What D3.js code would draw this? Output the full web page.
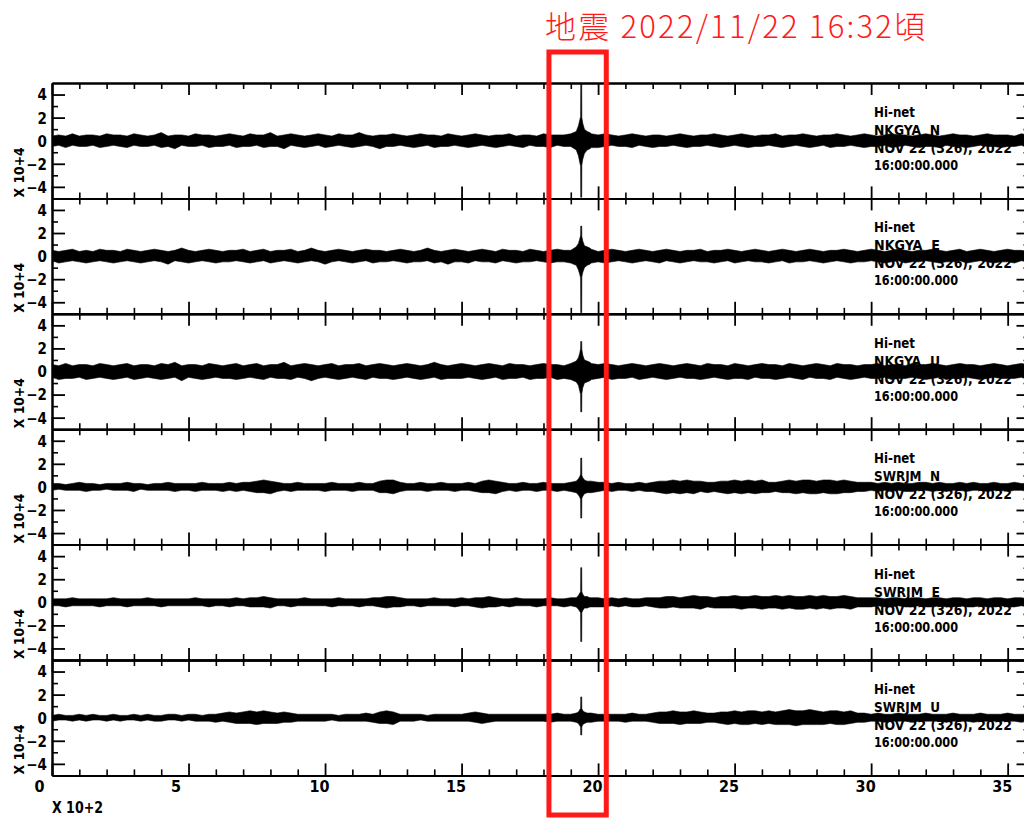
<!DOCTYPE html>
<html><head><meta charset="utf-8">
<script src="https://cdn.jsdelivr.net/npm/d3@7"></script>
<style>html,body{margin:0;padding:0;background:#fff;} svg{display:block} text{white-space:pre}</style>
</head><body>
<svg id="c" width="1024" height="818"></svg>
<script>
// ---------- text / labels ----------
const titleText = "地震 2022/11/22 16:32頃";
const network = "Hi-net";
const stations = ["NKGYA  N", "NKGYA  E", "NKGYA  U", "SWRJM  N", "SWRJM  E", "SWRJM  U"];
const dateLabel = "NOV 22 (326), 2022";
const timeLabel = "16:00:00.000";
const xTickLabels = [0, 5, 10, 15, 20, 25, 30, 35];
const yTickLabels = [4, 2, 0, -2, -4];
const xUnitLabel = "X 10+2";
const yUnitLabel = "X 10+4";
const eventWindow = [18.2, 20.3];   // x10^2 s, red box

// ---------- data: per-bin envelope (max / min) in units of 10^4, bins every 0.25 x10^2 s ----------
const binStep = 0.25;
const nN_max = [
.4,.5,.4,.6,.4,.5,.5,.4,.6,.5,
.5,.4,.6,.5,.4,.5,.7,.4,.5,.5,
.4,.6,.5,.5,.4,.5,.6,.5,.4,.6,
.5,.5,.7,.4,.5,.6,.5,.4,.5,.6,
.5,.4,.6,.5,.5,.7,.5,.4,.5,.5,
.6,.5,.4,.5,.6,.5,.5,.4,.6,.5,
.4,.5,.6,.5,.4,.5,.5,.6,.4,.5,
.5,.4,.6,.5,.5,.5,.6,.5,.6,.6,
.5,.6,.5,.4,.5,.6,.5,.4,.5,.5,
.4,.5,.6,.5,.4,.5,.5,.6,.5,.4,
.5,.6,.5,.4,.5,.5,.6,.4,.5,.5,
.6,.5,.4,.5,.5,.6,.5,.4,.5,.6,
.5,.4,.5,.6,.5,.5,.4,.5,.6,.5,
.4,.5,.6,.5,.5,.4,.5,.6,.5,.5,
.5,.4,.6,.5,.5,.5];
const nN_min = [
-.5,-.4,-.6,-.4,-.5,-.5,-.4,-.6,-.5,-.4,
-.5,-.6,-.4,-.5,-.5,-.4,-.6,-.5,-.7,-.4,
-.5,-.5,-.4,-.6,-.5,-.5,-.4,-.6,-.5,-.5,
-.4,-.6,-.5,-.5,-.7,-.4,-.5,-.6,-.5,-.4,
-.6,-.5,-.4,-.5,-.6,-.5,-.4,-.5,-.7,-.5,
-.5,-.4,-.5,-.6,-.5,-.4,-.6,-.5,-.5,-.4,
-.5,-.6,-.5,-.4,-.5,-.6,-.5,-.4,-.5,-.6,
-.4,-.5,-.5,-.6,-.4,-.5,-.5,-.6,-.6,-.6,
-.6,-.5,-.4,-.5,-.5,-.6,-.4,-.5,-.6,-.5,
-.5,-.4,-.5,-.6,-.5,-.5,-.4,-.5,-.6,-.5,
-.4,-.5,-.6,-.5,-.5,-.4,-.5,-.6,-.5,-.4,
-.5,-.6,-.5,-.4,-.6,-.5,-.5,-.4,-.5,-.6,
-.5,-.5,-.4,-.6,-.5,-.4,-.5,-.6,-.5,-.5,
-.6,-.4,-.5,-.5,-.6,-.5,-.4,-.5,-.5,-.6,
-.5,-.5,-.4,-.6,-.5,-.5];
const nE_max = [
.5,.4,.5,.6,.4,.5,.4,.6,.5,.5,
.4,.6,.5,.4,.5,.6,.5,.4,.5,.7,
.5,.4,.5,.6,.5,.4,.5,.5,.6,.4,
.5,.6,.4,.5,.5,.6,.4,.5,.7,.5,
.4,.5,.6,.5,.4,.5,.6,.5,.5,.4,
.5,.6,.5,.4,.5,.7,.5,.4,.5,.6,
.5,.4,.5,.6,.5,.4,.6,.5,.5,.4,
.6,.5,.4,.5,.6,.5,.5,.6,.6,.6,
.4,.5,.6,.5,.4,.5,.6,.5,.4,.5,
.6,.5,.4,.5,.5,.6,.4,.5,.5,.6,
.5,.4,.5,.6,.5,.4,.5,.6,.5,.4,
.5,.6,.5,.4,.5,.5,.6,.5,.4,.5,
.6,.5,.4,.5,.6,.5,.4,.5,.5,.6,
.5,.4,.5,.6,.4,.5,.6,.5,.4,.5,
.6,.5,.5,.4,.5,.6];
const nE_min = [
-.4,-.6,-.5,-.4,-.5,-.6,-.5,-.4,-.5,-.6,
-.5,-.4,-.5,-.6,-.5,-.4,-.5,-.7,-.4,-.5,
-.6,-.5,-.4,-.5,-.6,-.5,-.5,-.4,-.5,-.6,
-.5,-.4,-.6,-.5,-.4,-.5,-.6,-.5,-.4,-.5,
-.7,-.5,-.4,-.5,-.6,-.5,-.4,-.6,-.5,-.5,
-.4,-.5,-.6,-.5,-.5,-.4,-.6,-.5,-.7,-.5,
-.5,-.6,-.4,-.5,-.5,-.6,-.4,-.5,-.6,-.5,
-.5,-.4,-.5,-.6,-.5,-.5,-.6,-.6,-.6,-.6,
-.5,-.6,-.5,-.4,-.5,-.6,-.5,-.4,-.5,-.6,
-.4,-.5,-.6,-.5,-.4,-.5,-.5,-.6,-.5,-.4,
-.6,-.5,-.4,-.5,-.5,-.6,-.5,-.4,-.6,-.5,
-.5,-.4,-.5,-.6,-.5,-.4,-.5,-.6,-.5,-.5,
-.4,-.5,-.6,-.5,-.4,-.6,-.5,-.5,-.4,-.5,
-.6,-.5,-.5,-.4,-.6,-.5,-.4,-.5,-.6,-.5,
-.5,-.6,-.4,-.5,-.5,-.4];
const nU_max = [
.6,.5,.7,.5,.6,.6,.5,.7,.6,.5,
.6,.7,.5,.6,.6,.5,.7,.6,.8,.5,
.6,.6,.5,.7,.6,.5,.6,.7,.5,.6,
.7,.5,.6,.6,.8,.5,.6,.7,.6,.5,
.6,.7,.5,.6,.6,.7,.5,.6,.7,.6,
.5,.6,.7,.6,.5,.6,.8,.6,.5,.6,
.7,.6,.5,.6,.7,.6,.5,.7,.6,.6,
.5,.6,.7,.6,.6,.5,.7,.6,.7,.7,
.6,.7,.6,.5,.6,.7,.6,.5,.6,.7,
.6,.5,.6,.7,.6,.5,.7,.6,.6,.5,
.7,.6,.5,.6,.7,.6,.6,.5,.7,.6,
.5,.6,.7,.6,.5,.7,.6,.6,.5,.6,
.6,.7,.5,.6,.6,.5,.7,.6,.6,.7,
.6,.5,.6,.7,.6,.6,.5,.6,.7,.6,
.5,.6,.7,.6,.6,.5];
const nU_min = [
-.5,-.7,-.6,-.6,-.5,-.7,-.6,-.5,-.6,-.7,
-.6,-.5,-.7,-.6,-.5,-.6,-.7,-.6,-.5,-.8,
-.5,-.6,-.7,-.6,-.5,-.6,-.6,-.7,-.6,-.5,
-.6,-.7,-.5,-.6,-.6,-.7,-.5,-.6,-.8,-.6,
-.5,-.6,-.7,-.6,-.5,-.6,-.7,-.5,-.6,-.6,
-.7,-.6,-.5,-.6,-.7,-.6,-.5,-.7,-.6,-.6,
-.6,-.5,-.6,-.7,-.6,-.5,-.7,-.6,-.6,-.5,
-.7,-.6,-.6,-.5,-.7,-.6,-.7,-.7,-.7,-.7,
-.6,-.5,-.7,-.6,-.6,-.5,-.7,-.6,-.5,-.6,
-.7,-.6,-.5,-.6,-.6,-.7,-.6,-.5,-.6,-.7,
-.6,-.6,-.7,-.5,-.6,-.6,-.7,-.6,-.5,-.6,
-.7,-.5,-.6,-.6,-.7,-.5,-.6,-.7,-.6,-.5,
-.6,-.6,-.5,-.7,-.6,-.6,-.5,-.6,-.7,-.6,
-.5,-.7,-.6,-.6,-.5,-.6,-.7,-.6,-.5,-.6,
-.6,-.6,-.5,-.7,-.6,-.6];
const sN_max = [
.3,.3,.2,.3,.4,.3,.3,.2,.3,.3,
.3,.4,.3,.3,.2,.3,.3,.4,.3,.3,
.3,.3,.4,.3,.3,.3,.4,.3,.4,.4,
.5,.6,.5,.4,.3,.3,.4,.3,.3,.3,
.3,.4,.3,.3,.3,.4,.3,.3,.5,.6,
.6,.4,.3,.3,.4,.3,.3,.4,.3,.3,
.3,.4,.3,.5,.6,.5,.4,.3,.3,.4,
.3,.3,.4,.3,.3,.3,.4,.5,.5,.5,
.4,.4,.3,.4,.3,.3,.4,.3,.4,.5,
.5,.6,.5,.6,.5,.5,.4,.4,.5,.5,
.6,.5,.6,.5,.6,.4,.4,.5,.6,.5,
.6,.6,.5,.6,.6,.5,.6,.5,.4,.4,
.4,.3,.4,.3,.4,.3,.3,.4,.4,.3,
.4,.3,.3,.4,.3,.4,.3,.3,.4,.3,
.3,.4,.3,.3,.4,.3];
const sN_min = [
-.3,-.2,-.3,-.3,-.3,-.4,-.3,-.3,-.2,-.3,
-.3,-.3,-.4,-.2,-.3,-.3,-.3,-.3,-.4,-.3,
-.3,-.4,-.3,-.3,-.3,-.4,-.3,-.4,-.3,-.4,
-.5,-.5,-.6,-.4,-.3,-.4,-.3,-.3,-.3,-.3,
-.4,-.3,-.3,-.3,-.4,-.3,-.3,-.3,-.5,-.5,
-.6,-.4,-.3,-.3,-.3,-.4,-.3,-.3,-.3,-.4,
-.3,-.3,-.4,-.5,-.5,-.6,-.4,-.3,-.4,-.3,
-.3,-.4,-.3,-.3,-.4,-.3,-.4,-.5,-.5,-.5,
-.4,-.3,-.4,-.3,-.3,-.4,-.3,-.4,-.4,-.5,
-.6,-.5,-.6,-.5,-.6,-.4,-.5,-.4,-.5,-.6,
-.5,-.6,-.5,-.6,-.5,-.5,-.4,-.5,-.5,-.6,
-.5,-.6,-.6,-.5,-.6,-.6,-.5,-.5,-.4,-.4,
-.3,-.4,-.3,-.4,-.3,-.4,-.4,-.3,-.3,-.4,
-.3,-.4,-.3,-.3,-.4,-.3,-.3,-.4,-.3,-.3,
-.4,-.3,-.3,-.4,-.3,-.3];
const sE_max = [
.3,.3,.3,.4,.3,.3,.3,.3,.3,.4,
.3,.3,.3,.3,.4,.3,.3,.3,.3,.3,
.3,.4,.3,.3,.3,.3,.3,.4,.3,.4,
.4,.5,.4,.3,.3,.3,.3,.4,.3,.3,
.3,.3,.4,.3,.3,.3,.3,.4,.4,.5,
.5,.4,.3,.3,.3,.3,.4,.3,.3,.3,
.4,.3,.4,.4,.5,.4,.3,.3,.4,.3,
.3,.3,.3,.4,.3,.3,.4,.4,.4,.4,
.4,.3,.4,.3,.4,.3,.3,.4,.4,.4,
.5,.5,.4,.5,.6,.5,.5,.4,.5,.5,
.6,.5,.5,.6,.5,.5,.6,.5,.6,.5,
.5,.6,.5,.6,.5,.5,.6,.5,.4,.4,
.4,.4,.3,.4,.4,.3,.4,.4,.3,.4,
.4,.3,.4,.4,.3,.4,.4,.3,.4,.4,
.3,.4,.4,.3,.4,.4];
const sE_min = [
-.3,-.3,-.4,-.3,-.3,-.3,-.3,-.4,-.3,-.3,
-.3,-.4,-.3,-.3,-.3,-.3,-.4,-.3,-.3,-.3,
-.3,-.3,-.3,-.4,-.3,-.3,-.4,-.3,-.3,-.4,
-.4,-.4,-.5,-.3,-.3,-.4,-.3,-.3,-.3,-.3,
-.3,-.4,-.3,-.3,-.3,-.4,-.3,-.3,-.4,-.5,
-.4,-.4,-.3,-.3,-.4,-.3,-.3,-.3,-.3,-.4,
-.3,-.3,-.4,-.5,-.4,-.4,-.3,-.4,-.3,-.3,
-.3,-.4,-.3,-.3,-.3,-.4,-.3,-.4,-.4,-.4,
-.4,-.4,-.3,-.4,-.3,-.4,-.4,-.3,-.4,-.5,
-.5,-.4,-.5,-.5,-.5,-.6,-.4,-.5,-.5,-.5,
-.5,-.6,-.5,-.5,-.6,-.5,-.5,-.6,-.5,-.6,
-.6,-.5,-.6,-.5,-.6,-.5,-.5,-.6,-.4,-.4,
-.4,-.3,-.4,-.4,-.3,-.4,-.4,-.3,-.4,-.4,
-.3,-.4,-.4,-.3,-.4,-.4,-.3,-.4,-.4,-.3,
-.4,-.4,-.3,-.4,-.4,-.3];
const sU_max = [
.2,.3,.2,.2,.3,.2,.3,.2,.2,.3,
.2,.2,.3,.2,.3,.2,.2,.3,.3,.2,
.3,.3,.2,.3,.3,.4,.5,.4,.5,.6,
.5,.6,.5,.4,.5,.4,.3,.3,.3,.3,
.3,.3,.2,.3,.3,.3,.4,.3,.5,.6,
.5,.3,.3,.3,.3,.2,.3,.3,.3,.3,
.3,.4,.5,.4,.3,.3,.3,.3,.3,.3,
.3,.3,.3,.3,.4,.3,.3,.4,.4,.4,
.3,.3,.3,.3,.3,.4,.3,.3,.4,.5,
.5,.6,.5,.5,.6,.5,.4,.4,.5,.5,
.6,.5,.6,.6,.5,.6,.5,.6,.7,.6,
.6,.7,.6,.5,.6,.6,.5,.6,.4,.4,
.3,.4,.3,.3,.4,.3,.3,.3,.4,.3,
.3,.3,.4,.3,.3,.3,.4,.3,.3,.3,
.4,.3,.3,.3,.4,.3];
const sU_min = [
-.3,-.2,-.2,-.3,-.2,-.3,-.2,-.2,-.3,-.2,
-.3,-.2,-.2,-.3,-.2,-.3,-.3,-.2,-.2,-.3,
-.2,-.3,-.3,-.3,-.4,-.3,-.4,-.5,-.5,-.5,
-.6,-.5,-.5,-.5,-.4,-.4,-.3,-.3,-.3,-.3,
-.3,-.2,-.3,-.3,-.3,-.3,-.3,-.4,-.5,-.5,
-.6,-.3,-.3,-.3,-.2,-.3,-.3,-.3,-.3,-.3,
-.3,-.3,-.4,-.5,-.4,-.3,-.3,-.3,-.3,-.3,
-.3,-.3,-.3,-.4,-.3,-.3,-.3,-.4,-.4,-.4,
-.3,-.3,-.3,-.3,-.4,-.3,-.3,-.3,-.4,-.5,
-.5,-.5,-.6,-.5,-.5,-.5,-.4,-.4,-.5,-.6,
-.5,-.6,-.6,-.5,-.6,-.5,-.6,-.6,-.6,-.7,
-.6,-.6,-.6,-.6,-.5,-.6,-.6,-.5,-.4,-.4,
-.3,-.3,-.4,-.3,-.3,-.3,-.4,-.3,-.3,-.3,
-.3,-.4,-.3,-.3,-.3,-.4,-.3,-.3,-.3,-.3,
-.3,-.3,-.4,-.3,-.3,-.3];

// earthquake arrival (16:32), finer samples, x10^2 s
const eventT = [19.20, 19.28, 19.33, 19.36, 19.365, 19.40, 19.405, 19.44, 19.50, 19.60, 19.70];
const ev_nN_max = [.8,1.3,1.8,2.1,4.9,4.9,2.0,1.5,1.0,.8,.7];
const ev_nN_min = [-.8,-1.3,-1.9,-2.2,-4.9,-4.9,-2.1,-1.6,-1.1,-.8,-.7];
const ev_nE_max = [.8,1.1,1.5,1.8,2.6,2.6,1.7,1.3,.9,.8,.7];
const ev_nE_min = [-.8,-1.2,-1.6,-1.9,-4.9,-4.9,-1.8,-1.4,-1.0,-.8,-.7];
const ev_nU_max = [.9,1.2,1.6,2.0,2.6,2.6,1.9,1.4,1.0,.9,.8];
const ev_nU_min = [-.9,-1.2,-1.7,-2.0,-3.5,-3.5,-1.9,-1.4,-1.0,-.9,-.8];
const ev_sN_max = [.5,.7,.9,1.1,2.5,2.5,1.0,.8,.6,.5,.5];
const ev_sN_min = [-.5,-.7,-.9,-1.1,-2.7,-2.7,-1.0,-.8,-.6,-.5,-.5];
const ev_sE_max = [.4,.6,.8,.9,3.0,3.0,.9,.7,.5,.5,.4];
const ev_sE_min = [-.4,-.6,-.8,-.9,-3.4,-3.4,-.9,-.7,-.5,-.5,-.4];
const ev_sU_max = [.4,.5,.7,.8,1.8,1.8,.8,.6,.5,.4,.4];
const ev_sU_min = [-.4,-.5,-.7,-.8,-1.5,-1.5,-.8,-.6,-.5,-.4,-.4];

const traceMax = [nN_max, nE_max, nU_max, sN_max, sE_max, sU_max];
const traceMin = [nN_min, nE_min, nU_min, sN_min, sE_min, sU_min];
const eventMax = [ev_nN_max, ev_nE_max, ev_nU_max, ev_sN_max, ev_sE_max, ev_sU_max];
const eventMin = [ev_nN_min, ev_nE_min, ev_nU_min, ev_sN_min, ev_sE_min, ev_sU_min];

// ---------- drawing ----------
const svg = d3.select("#c");
const FONT = "'Liberation Sans Narrow','DejaVu Sans Condensed','Roboto Condensed','Liberation Sans',sans-serif";
const plotL = 52, plotR = 1029.5, plotTop = 83, panelH = 115.4;
const xs = d3.scaleLinear().domain([0, 35.8]).range([plotL, plotR]);

function buildSeries(mx, mn, emx, emn) {
  const pts = [];
  const n = Math.min(mx.length, mn.length);
  const t0 = eventT[0], t1 = eventT[eventT.length - 1];
  for (let i = 0; i < n; i++) {
    const t = i * binStep;
    if (t < t0 || t > t1) pts.push({t, hi: mx[i], lo: mn[i]});
  }
  eventT.forEach((t, j) => pts.push({t, hi: emx[j], lo: emn[j]}));
  pts.sort((a, b) => a.t - b.t);
  return pts;
}

function styleAxis(sel, w) {
  sel.selectAll("path.domain").attr("stroke", "#000").attr("stroke-width", 2);
  sel.selectAll(".tick line").attr("stroke", "#000").attr("stroke-width", w);
}

const minorX = d3.range(0, 36).filter(v => v % 5 !== 0);
const majorX = d3.range(0, 36, 5);
const minorY = [-3, -1, 1, 3];
const majorY = [-4, -2, 0, 2, 4];

stations.forEach((st, k) => {
  const g = svg.append("g").attr("transform", `translate(0,${plotTop + k * panelH})`);
  const ys = d3.scaleLinear().domain([-5, 5]).range([panelH, 0]);
  const cid = "clip" + k;
  g.append("clipPath").attr("id", cid).append("rect")
    .attr("x", plotL).attr("y", 0).attr("width", plotR - plotL).attr("height", panelH);

  const pts = buildSeries(traceMax[k], traceMin[k], eventMax[k], eventMin[k]);
  const area = d3.area().x(d => xs(d.t)).y0(d => ys(d.lo)).y1(d => ys(d.hi));
  g.append("path").attr("clip-path", `url(#${cid})`).attr("d", area(pts))
    .attr("fill", "#000").attr("stroke", "#000").attr("stroke-width", 0.6).attr("stroke-linejoin", "miter");

  const ax = (a, vals, size) => a.tickValues(vals).tickSize(size).tickSizeOuter(0).tickFormat("");
  g.append("g").call(ax(d3.axisBottom(xs), minorX, 6)).call(s => styleAxis(s, 1.6));
  g.append("g").call(ax(d3.axisBottom(xs), majorX, 12)).call(s => styleAxis(s, 1.8));
  g.append("g").attr("transform", `translate(0,${panelH})`).call(ax(d3.axisTop(xs), minorX, 6)).call(s => styleAxis(s, 1.6));
  g.append("g").attr("transform", `translate(0,${panelH})`).call(ax(d3.axisTop(xs), majorX, 12)).call(s => styleAxis(s, 1.8));
  g.append("g").attr("transform", `translate(${plotL},0)`).call(ax(d3.axisRight(ys), minorY, 6)).call(s => styleAxis(s, 1.6));
  g.append("g").attr("transform", `translate(${plotL},0)`).call(ax(d3.axisRight(ys), majorY, 13)).call(s => styleAxis(s, 1.8));
  g.append("g").attr("transform", `translate(${plotR},0)`).call(ax(d3.axisLeft(ys), minorY, 6)).call(s => styleAxis(s, 1.6));
  g.append("g").attr("transform", `translate(${plotR},0)`).call(ax(d3.axisLeft(ys), majorY, 13)).call(s => styleAxis(s, 1.8));

  const yl = g.append("g").attr("transform", `translate(${plotL},0)`)
    .call(d3.axisLeft(ys).tickValues(yTickLabels).tickSize(0).tickPadding(5)
      .tickFormat(d => d < 0 ? "\u2212" + Math.abs(d) : String(d)));
  yl.select("path.domain").remove();
  yl.attr("font-family", FONT).attr("font-size", 15).attr("font-weight", "bold");
  yl.selectAll("text").attr("fill", "#000").attr("dy", "0.36em");

  g.append("text").attr("transform", `translate(24,${panelH - 1}) rotate(-90)`)
    .attr("font-family", FONT).attr("font-size", 14).attr("font-weight", "bold")
    .attr("textLength", 50).attr("lengthAdjust", "spacingAndGlyphs")
    .text(yUnitLabel);

  const info = [[network, 34, 41], [st, 52, 66], [dateLabel, 70, 138], [timeLabel, 87, 84]];
  info.forEach(([txt, dy, w]) => {
    g.append("text").attr("x", 874).attr("y", dy)
      .attr("font-family", FONT).attr("font-size", 14).attr("font-weight", "bold")
      .attr("textLength", w).attr("lengthAdjust", "spacingAndGlyphs")
      .text(txt);
  });

  if (k === stations.length - 1) {
    const xl = g.append("g").attr("transform", `translate(0,${panelH})`)
      .call(d3.axisBottom(xs).tickValues(xTickLabels).tickSize(0).tickPadding(5).tickFormat(d3.format("d")));
    xl.select("path.domain").remove();
    xl.attr("font-family", FONT).attr("font-size", 16).attr("font-weight", "bold");
    xl.selectAll("text").attr("fill", "#000").attr("dx", d => d < 10 ? -13 : -6);
    g.append("text").attr("x", plotL).attr("y", panelH + 38)
      .attr("font-family", FONT).attr("font-size", 15).attr("font-weight", "bold")
      .attr("textLength", 51).attr("lengthAdjust", "spacingAndGlyphs")
      .text(xUnitLabel);
  }
});

svg.append("rect")
  .attr("x", xs(eventWindow[0])).attr("y", 52)
  .attr("width", xs(eventWindow[1]) - xs(eventWindow[0])).attr("height", 763)
  .attr("fill", "none").attr("stroke", "#ff1a1a").attr("stroke-width", 5);

svg.append("text").attr("x", 545).attr("y", 38)
  .attr("font-family", "'Noto Sans CJK JP','Noto Sans CJK SC',sans-serif").attr("font-size", 31)
  .attr("font-weight", 300)
  .attr("fill", "#ff1a1a").attr("textLength", 380).attr("lengthAdjust", "spacing")
  .text(titleText);
</script>
</body></html>
